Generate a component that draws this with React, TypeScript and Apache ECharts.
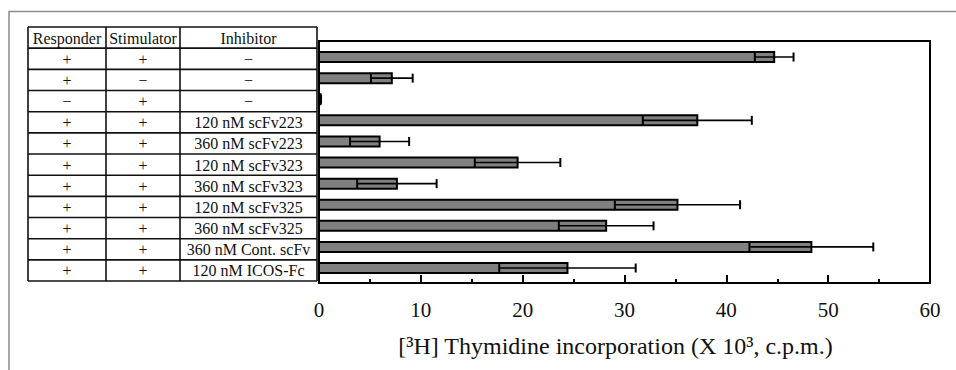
import React, { useEffect, useRef } from "react";
import * as echarts from "echarts";

// ---- data ----
const headers = ["Responder", "Stimulator", "Inhibitor"];
const responder = ["+", "+", "−", "+", "+", "+", "+", "+", "+", "+", "+"];
const stimulator = ["+", "−", "+", "+", "+", "+", "+", "+", "+", "+", "+"];
const inhibitor = [
  "−",
  "−",
  "−",
  "120 nM scFv223",
  "360 nM scFv223",
  "120 nM scFv323",
  "360 nM scFv323",
  "120 nM scFv325",
  "360 nM scFv325",
  "360 nM Cont. scFv",
  "120 nM ICOS-Fc",
];
const means = [44.7, 7.15, 0.15, 37.15, 5.95, 19.5, 7.65, 35.2, 28.2, 48.35, 24.4];
const sds = [1.9, 2.05, 0.05, 5.35, 2.9, 4.2, 3.9, 6.15, 4.65, 6.08, 6.7];
const xTickValues = [0, 10, 20, 30, 40, 50, 60];
const axisTitle = "[³H] Thymidine incorporation (X 10³, c.p.m.)";

const FONT = "Liberation Serif";

export default function App() {
  const ref = useRef<HTMLDivElement>(null);

  useEffect(() => {
    if (!ref.current) return;
    const chart = echarts.init(ref.current, null, { renderer: "svg" });

    // table geometry
    const colX = [28, 106, 180, 317];
    const tableTop = 27;
    const rowH = 21.17;
    const nRows = inhibitor.length + 1;
    const graphics: any[] = [];
    // outer gray frame
    graphics.push({
      type: "polyline",
      shape: { points: [[9, 370], [9, 11.5], [956, 11.5]] },
      style: { stroke: "#8c8c8c", lineWidth: 1.5, fill: null },
    });
    for (let k = 0; k <= nRows; k++) {
      const y = tableTop + rowH * k;
      graphics.push({
        type: "line",
        shape: { x1: colX[0], y1: y, x2: colX[3], y2: y },
        style: { stroke: "#111", lineWidth: 1.6 },
      });
    }
    for (let c = 0; c < colX.length; c++) {
      graphics.push({
        type: "line",
        shape: { x1: colX[c], y1: tableTop, x2: colX[c], y2: tableTop + rowH * nRows },
        style: { stroke: "#111", lineWidth: 1.6 },
      });
    }
    const rows = [headers, ...inhibitor.map((v, i) => [responder[i], stimulator[i], v])];
    rows.forEach((r, ri) => {
      r.forEach((txt, ci) => {
        graphics.push({
          type: "text",
          x: (colX[ci] + colX[ci + 1]) / 2,
          y: tableTop + rowH * (ri + 0.5) + 0.5,
          style: {
            text: txt,
            fontFamily: FONT,
            fontSize: 16,
            fill: "#111",
            align: "center",
            verticalAlign: "middle",
          },
        });
      });
    });

    const data = means.map((m, i) => [m, i, sds[i]]);

    chart.setOption({
      animation: false,
      grid: {
        left: 319,
        top: 41,
        width: 611,
        height: 242,
        show: true,
        borderColor: "#000",
        borderWidth: 2,
        backgroundColor: "transparent",
      },
      xAxis: {
        type: "value",
        position: "bottom",
        min: 0,
        max: 60,
        interval: 10,
        axisLine: { show: true, onZero: false, lineStyle: { color: "#000", width: 2 } },
        axisTick: { show: true, inside: true, length: 8, lineStyle: { color: "#000", width: 2 } },
        minorTick: { show: true, splitNumber: 2, length: 4, lineStyle: { color: "#000", width: 2 } },
        splitLine: { show: false },
        axisLabel: {
          fontFamily: FONT,
          fontSize: 21,
          color: "#111",
          margin: 16,
          formatter: (v: number) => (xTickValues.includes(v) ? String(v) : ""),
        },
        name: axisTitle,
        nameLocation: "middle",
        nameGap: 51,
        nameTextStyle: {
          fontFamily: FONT,
          fontSize: 24,
          color: "#111",
          padding: [0, 18, 0, 0],
        },
      },
      yAxis: {
        type: "value",
        min: -0.76,
        max: 10.71,
        inverse: true,
        show: false,
      },
      series: [
        {
          type: "custom",
          clip: false,
          encode: { x: 0, y: 1 },
          data,
          renderItem: (params: any, api: any) => {
            const m = api.value(0);
            const idx = api.value(1);
            const sd = api.value(2);
            const p0 = api.coord([0, idx]);
            const pm = api.coord([m, idx]);
            const pl = api.coord([m - sd, idx]);
            const ph = api.coord([m + sd, idx]);
            const h = 10;
            return {
              type: "group",
              children: [
                {
                  type: "rect",
                  shape: { x: p0[0], y: p0[1] - h / 2, width: pm[0] - p0[0], height: h },
                  style: { fill: "#808080", stroke: "#000", lineWidth: 2 },
                },
                {
                  type: "line",
                  shape: { x1: pl[0], y1: pl[1] - h / 2, x2: pl[0], y2: pl[1] + h / 2 },
                  style: { stroke: "#000", lineWidth: 2 },
                },
                {
                  type: "line",
                  shape: { x1: pl[0], y1: pl[1], x2: ph[0], y2: ph[1] },
                  style: { stroke: "#000", lineWidth: 1.6 },
                },
                {
                  type: "line",
                  shape: { x1: ph[0], y1: ph[1] - h / 2 + 0.5, x2: ph[0], y2: ph[1] + h / 2 - 0.5 },
                  style: { stroke: "#000", lineWidth: 2 },
                },
              ],
            };
          },
        },
      ],
      graphic: graphics,
    });

    return () => chart.dispose();
  }, []);

  return (
    <div
      ref={ref}
      style={{ position: "fixed", left: 0, top: 0, width: 956, height: 370, background: "#fff" }}
    />
  );
}
